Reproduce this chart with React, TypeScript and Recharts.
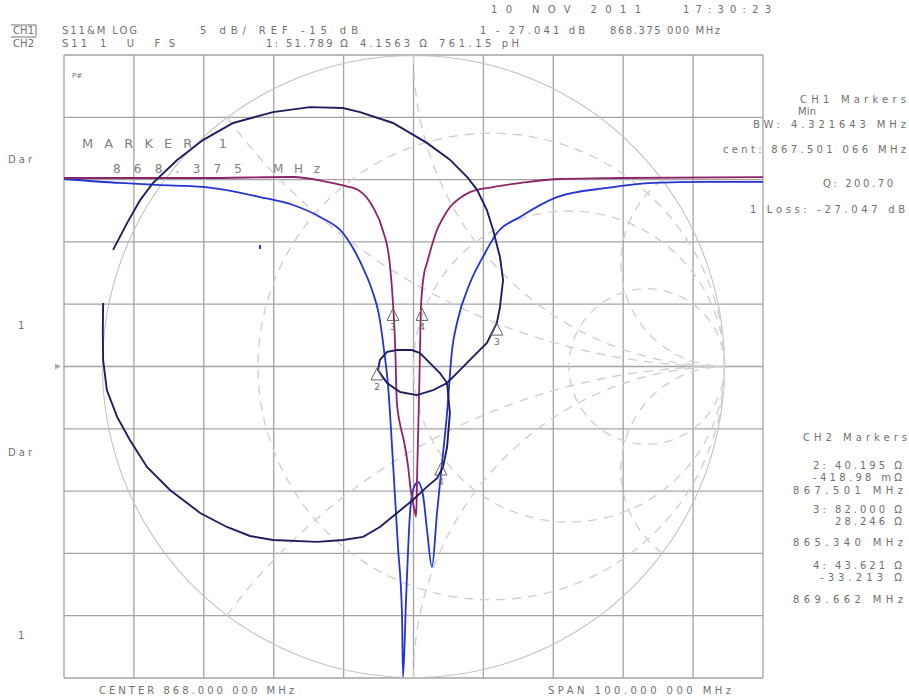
import React from 'react';
import { ComposedChart, XAxis, YAxis, Scatter, ReferenceDot, ReferenceLine } from 'recharts';

// ---------- Axis ticks (graticule: 10 x 10 divisions) ----------
const freqTicks = [818, 828, 838, 848, 858, 868, 878, 888, 898, 908, 918];
const dbTicks = [-40, -35, -30, -25, -20, -15, -10, -5, 0, 5, 10];

// ---------- CH1 S11 log magnitude (magenta) ----------
const ch1Freq = [818.0, 837.5, 850.8, 855.6, 858.2, 860.3, 862.2, 863.6, 864.6, 865.1, 865.4, 865.6, 866.1, 866.6, 867.2, 867.6, 868.1, 868.38, 868.5, 868.64, 868.78, 868.93, 869.07, 869.5, 869.93, 870.65, 871.36, 872.22, 873.22, 874.65, 876.08, 879.37, 883.23, 888.96, 897.54, 918.0];
const ch1Db = [0.13, 0.13, 0.21, -0.19, -0.51, -0.91, -2.2, -4.04, -6.7, -10.2, -13.7, -17.7, -19.7, -20.9, -22.9, -24.9, -26.4, -27.04, -24.1, -20.9, -17.7, -13.7, -10.2, -7.6, -6.7, -5.25, -4.04, -3.08, -2.2, -1.48, -1.0, -0.6, -0.28, 0.05, 0.13, 0.2];

// ---------- second log-mag trace (blue) ----------
const blueFreq = [818.0, 826.01, 831.3, 837.88, 846.04, 850.76, 854.62, 857.91, 859.34, 860.78, 862.06, 863.06, 863.78, 864.35, 865.07, 865.78, 866.35, 866.5, 866.93, 867.5, 867.93, 868.64, 869.36, 869.93, 870.64, 871.36, 872.08, 872.8, 873.51, 874.22, 876.08, 878.08, 879.94, 883.23, 888.53, 895.68, 902.26, 909.99, 918.0];
const blueDb = [0.05, -0.27, -0.43, -0.59, -1.4, -2.04, -3.0, -4.29, -5.49, -7.09, -8.86, -10.86, -13.68, -16.48, -22.75, -29.49, -34.78, -39.9, -33.74, -26.76, -24.91, -24.27, -25.31, -28.12, -31.09, -26.76, -22.75, -18.73, -13.68, -11.51, -8.3, -6.05, -4.29, -3.0, -1.4, -0.67, -0.27, -0.19, -0.19];
// isolated blue sample visible left of the notch
const blueDotFreq = [846.04];
const blueDotDb = [-5.41];

// ---------- CH2 S11 Smith chart trace (navy), reflection coefficient ----------
const smithRe = [-0.966, -0.921, -0.879, -0.838, -0.76, -0.677, -0.58, -0.452, -0.333, -0.227, -0.172, -0.066, 0.043, 0.117, 0.172, 0.204, 0.236, 0.256, 0.278, 0.288, 0.278, 0.268, 0.236, 0.191, 0.15, 0.108, 0.063, 0.011, -0.043, -0.085, -0.114, -0.108, -0.085, -0.053, -0.005, 0.021, 0.053, 0.085, 0.108, 0.117, 0.108, 0.095, 0.076, 0.043, -0.002, -0.053, -0.108, -0.162, -0.227, -0.31, -0.452, -0.526, -0.6, -0.686, -0.783, -0.857, -0.912, -0.953, -0.986, -0.998, -0.999, -0.998];
const smithIm = [0.375, 0.461, 0.535, 0.59, 0.664, 0.728, 0.783, 0.818, 0.834, 0.831, 0.818, 0.783, 0.719, 0.665, 0.61, 0.569, 0.503, 0.439, 0.352, 0.278, 0.191, 0.14, 0.076, 0.031, -0.011, -0.053, -0.076, -0.092, -0.082, -0.053, -0.011, 0.021, 0.047, 0.053, 0.053, 0.043, 0.011, -0.021, -0.053, -0.15, -0.259, -0.323, -0.359, -0.387, -0.429, -0.471, -0.516, -0.548, -0.558, -0.564, -0.558, -0.545, -0.516, -0.471, -0.397, -0.323, -0.236, -0.162, -0.076, 0.021, 0.117, 0.204];

// ---------- markers ----------
const ch1MarkerFreq = [865.07, 869.22];
const ch1MarkerDb = [-10.9, -10.9];
const ch1MarkerLabels = ['3', '4'];
const smithMarkerRe = [0.268, -0.117, 0.088];
const smithMarkerIm = [0.117, -0.027, -0.333];
const smithMarkerLabels = ['3', '2', '4'];

// ---------- Smith chart graticule (coordinate system) ----------
const smithResistances = [1 / 3, 1, 3];
const smithReactances = [0.5, 1, 3, -0.5, -1, -3];

const unitCircle = () => {
  const pts: { x: number; y: number }[] = [];
  for (let i = 0; i <= 180; i++) {
    const t = (i / 180) * Math.PI * 2;
    pts.push({ x: Math.cos(t), y: Math.sin(t) });
  }
  return pts;
};
const resistanceCircle = (r: number) => {
  const c = r / (1 + r);
  const rho = 1 / (1 + r);
  const pts: { x: number; y: number }[] = [];
  for (let i = 0; i <= 180; i++) {
    const t = (i / 180) * Math.PI * 2;
    pts.push({ x: c + rho * Math.cos(t), y: rho * Math.sin(t) });
  }
  return pts;
};
const reactanceArc = (x: number) => {
  const pts: { x: number; y: number }[] = [];
  for (let i = 0; i <= 90; i++) {
    const r = Math.tan((i / 91) * (Math.PI / 2));
    const d = (r + 1) * (r + 1) + x * x;
    pts.push({ x: (r * r - 1 + x * x) / d, y: (2 * x) / d });
  }
  pts.push({ x: 1, y: 0 });
  return pts;
};

const ch1Data = ch1Freq.map((x, i) => ({ x, y: ch1Db[i] }));
const blueData = blueFreq.map((x, i) => ({ x, y: blueDb[i] }));
const blueDotData = blueDotFreq.map((x, i) => ({ x, y: blueDotDb[i] }));
const smithData = smithRe.map((x, i) => ({ x, y: smithIm[i] }));
const ch1Markers = ch1MarkerFreq.map((x, i) => ({ x, y: ch1MarkerDb[i], label: ch1MarkerLabels[i] }));
const smithMarkers = smithMarkerRe.map((x, i) => ({ x, y: smithMarkerIm[i], label: smithMarkerLabels[i] }));

const NoDot = () => <g />;
const SmallDot = (props: any) => {
  const { cx, cy } = props;
  if (cx == null || cy == null) return <g />;
  return <rect x={cx - 1} y={cy - 2} width={2} height={4} fill="#2333d6" />;
};
const MarkerShape = (props: any) => {
  const { cx, cy, payload } = props;
  if (cx == null || cy == null) return <g />;
  return (
    <g>
      <polygon points={`${cx},${cy - 7} ${cx - 6},${cy + 5} ${cx + 6},${cy + 5}`} fill="none" stroke="#666" strokeWidth={1} />
      <text x={cx} y={cy + 15} fontSize={9} fill="#666" textAnchor="middle" fontFamily="DejaVu Sans">{payload.label}</text>
    </g>
  );
};
const RefArrow = (props: any) => {
  const { cx, cy } = props;
  if (cx == null || cy == null) return <g />;
  return <polygon points={`${cx - 9},${cy - 3} ${cx - 3},${cy} ${cx - 9},${cy + 3}`} fill="#aaa" />;
};

const GRID = '#a3a3a3';
const SMITH = '#d0d0d0';
const TXT = '#707070';

export default function App() {
  const tStyle: React.CSSProperties = { fontFamily: 'DejaVu Sans', fontSize: 10 };
  return (
    <div style={{ position: 'absolute', left: 0, top: 0, width: 909, height: 699, background: '#fff' }}>
      <ComposedChart width={909} height={699} margin={{ top: 55, right: 146, bottom: 21, left: 64 }}>
        <XAxis xAxisId="f" dataKey="x" type="number" domain={[818, 918]} ticks={freqTicks} allowDataOverflow hide />
        <YAxis yAxisId="db" dataKey="y" type="number" domain={[-40, 10]} ticks={dbTicks} allowDataOverflow hide />
        <XAxis xAxisId="g" dataKey="x" type="number" domain={[-1.12379, 1.12379]} allowDataOverflow hide />
        <YAxis yAxisId="g" dataKey="y" type="number" domain={[-1.00161, 1.00161]} allowDataOverflow hide />

        {freqTicks.map((f) => (
          <ReferenceLine key={'vf' + f} xAxisId="f" yAxisId="db" x={f} stroke={GRID} strokeWidth={1.3} ifOverflow="visible" />
        ))}
        {dbTicks.map((d) => (
          <ReferenceLine key={'hd' + d} xAxisId="f" yAxisId="db" y={d} stroke={GRID} strokeWidth={1.3} ifOverflow="visible" />
        ))}

        <Scatter xAxisId="g" yAxisId="g" data={unitCircle()} fill="#c2c2c2" line={{ stroke: '#c2c2c2', strokeWidth: 1.1 }} lineType="joint" shape={NoDot} isAnimationActive={false} legendType="none" />
        {smithResistances.map((r) => (
          <Scatter key={'r' + r} xAxisId="g" yAxisId="g" data={resistanceCircle(r)} fill={SMITH} line={{ stroke: SMITH, strokeWidth: 1.4, strokeDasharray: '9 7' }} lineType="joint" shape={NoDot} isAnimationActive={false} legendType="none" />
        ))}
        {smithReactances.map((x) => (
          <Scatter key={'x' + x} xAxisId="g" yAxisId="g" data={reactanceArc(x)} fill={SMITH} line={{ stroke: SMITH, strokeWidth: 1.4, strokeDasharray: '9 7' }} lineType="joint" shape={NoDot} isAnimationActive={false} legendType="none" />
        ))}

        <Scatter xAxisId="f" yAxisId="db" data={blueData} fill="#2333d6" line={{ stroke: '#2333d6', strokeWidth: 1.8 }} lineType="joint" lineJointType="monotoneX" shape={NoDot} isAnimationActive={false} legendType="none" />
        <Scatter xAxisId="f" yAxisId="db" data={blueDotData} fill="#2333d6" shape={SmallDot} isAnimationActive={false} legendType="none" />
        <Scatter xAxisId="f" yAxisId="db" data={ch1Data} fill="#8e2468" line={{ stroke: '#8e2468', strokeWidth: 1.8 }} lineType="joint" lineJointType="monotoneX" shape={NoDot} isAnimationActive={false} legendType="none" />
        <Scatter xAxisId="g" yAxisId="g" data={smithData} fill="#1e1e60" line={{ stroke: '#1e1e60', strokeWidth: 1.9 }} lineType="joint" shape={NoDot} isAnimationActive={false} legendType="none" />

        <Scatter xAxisId="f" yAxisId="db" data={ch1Markers} fill="#666" shape={MarkerShape} isAnimationActive={false} legendType="none" />
        <Scatter xAxisId="g" yAxisId="g" data={smithMarkers} fill="#666" shape={MarkerShape} isAnimationActive={false} legendType="none" />
        <ReferenceDot xAxisId="f" yAxisId="db" x={818} y={-15} r={3} shape={RefArrow} ifOverflow="visible" />
      </ComposedChart>

      <svg width={909} height={699} style={{ position: 'absolute', left: 0, top: 0, pointerEvents: 'none' }}>
        <g style={tStyle} fill={TXT}>
          <text x={491} y={13} textLength={150}>10 NOV 2011</text>
          <text x={683} y={13} textLength={88}>17:30:23</text>

          <line x1={11} y1={25} x2={36} y2={25} stroke={TXT} strokeWidth={1} />
          <line x1={36} y1={25} x2={36} y2={36} stroke={TXT} strokeWidth={1} />
          <text x={13} y={34} textLength={21}>CH1</text>
          <text x={62} y={34} textLength={75}>S11&amp;M LOG</text>
          <text x={200} y={34} textLength={158}>5 dB/ REF -15 dB</text>
          <text x={480} y={34} textLength={105}>1 - 27.041 dB</text>
          <text x={610} y={34} textLength={110}>868.375 000 MHz</text>

          <line x1={11} y1={37} x2={36} y2={37} stroke={TXT} strokeWidth={1} />
          <text x={13} y={47} textLength={21}>CH2</text>
          <text x={62} y={47} textLength={25}>S11</text>
          <text x={100} y={47} textLength={75}>1 U FS</text>
          <text x={266} y={47} textLength={82}>1: 51.789 Ω</text>
          <text x={360} y={47} textLength={67}>4.1563 Ω</text>
          <text x={439} y={47} textLength={80}>761.15 pH</text>

          <text x={72} y={78} fontSize={7}>P#</text>
          <text x={82} y={148} fontSize={13} fill="#808080" textLength={145}>MARKER 1</text>
          <text x={113} y={173} fontSize={12} fill="#808080" textLength={129}>868.375</text>
          <text x={273} y={173} fontSize={12} fill="#808080" textLength={47}>MHz</text>

          <text x={8} y={163} textLength={24}>Dar</text>
          <text x={18} y={329}>1</text>
          <text x={8} y={456} textLength={24}>Dar</text>
          <text x={18} y={639}>1</text>

          <text x={800} y={103} textLength={106}>CH1 Markers</text>
          <text x={798} y={115} textLength={18}>Min</text>
          <text x={753} y={128} textLength={153}>BW: 4.321643 MHz</text>
          <text x={723} y={153} textLength={183}>cent: 867.501 066 MHz</text>
          <text x={823} y={187} textLength={70}>Q: 200.70</text>
          <text x={750} y={213} textLength={155}>1 Loss: -27.047 dB</text>

          <text x={803} y={441} textLength={104}>CH2 Markers</text>
          <text x={813} y={469} textLength={89}>2: 40.195 Ω</text>
          <text x={813} y={481} textLength={89}>-418.98 mΩ</text>
          <text x={793} y={494} textLength={110}>867.501 MHz</text>
          <text x={813} y={513} textLength={89}>3: 82.000 Ω</text>
          <text x={835} y={525} textLength={67}>28.246 Ω</text>
          <text x={793} y={546} textLength={110}>865.340 MHz</text>
          <text x={813} y={569} textLength={89}>4: 43.621 Ω</text>
          <text x={820} y={581} textLength={82}>-33.213 Ω</text>
          <text x={793} y={603} textLength={110}>869.662 MHz</text>

          <text x={99} y={694} textLength={195}>CENTER 868.000 000 MHz</text>
          <text x={548} y={694} textLength={183}>SPAN 100.000 000 MHz</text>
        </g>
      </svg>
    </div>
  );
}
